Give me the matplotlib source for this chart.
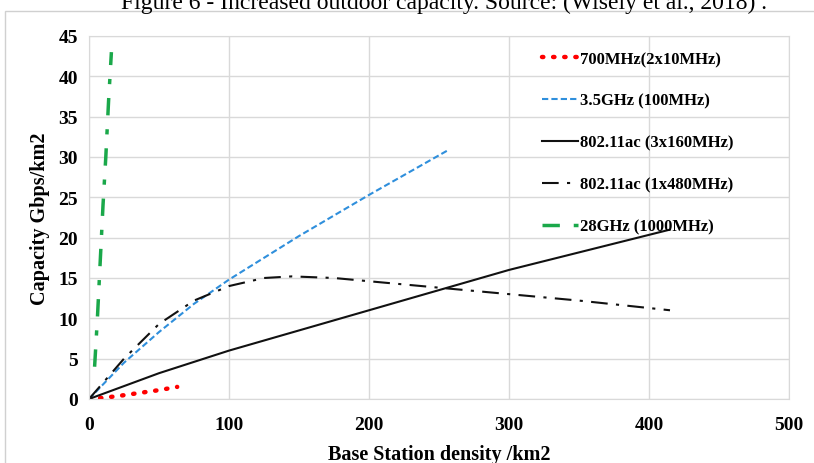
import matplotlib
matplotlib.use("Agg")
from matplotlib import pyplot as plt
from matplotlib.patches import Rectangle

# data
x_700 = [0, 10, 20, 30, 40, 50, 63]
y_700 = [0, 0.15, 0.35, 0.6, 0.85, 1.1, 1.5]

x_35 = [0, 25, 50, 75, 100, 150, 200, 256]
y_35 = [0, 4.5, 8.3, 11.8, 14.8, 20.2, 25.3, 30.8]

x_160 = [0, 50, 100, 200, 300, 415]
y_160 = [0, 3.2, 6.0, 11.0, 16.0, 21.0]

x_480 = [0, 25, 50, 75, 100, 125, 145, 175, 200, 250, 300, 350, 415]
y_480 = [0, 5.0, 9.3, 12.2, 14.0, 15.0, 15.2, 15.0, 14.6, 13.8, 13.0, 12.2, 11.0]

x_28 = [4, 6, 8, 10, 12, 14, 16]
y_28 = [4, 10, 17, 24, 30, 37, 43]

labels = ['700MHz(2x10MHz)', '3.5GHz (100MHz)', '802.11ac (3x160MHz)',
          '802.11ac (1x480MHz)', '28GHz (1000MHz)']

plt.rcParams['font.family'] = ['Liberation Serif', 'DejaVu Serif']

fig = plt.figure(figsize=(8.14, 4.64), dpi=100)
ax = fig.add_axes([89/814, 1-400/464, 700/814, 363/464])

# outer frame and clipped caption
fig.patches.append(Rectangle((5/814, -0.1), 1.0, 1-12/464+0.1, transform=fig.transFigure,
                             fill=False, edgecolor='#d0d0d0', linewidth=1))
fig.text(0.545, 1-3/464, 'Figure 6 - Increased outdoor capacity. Source: (Wisely et al., 2018) .',
         ha='center', va='center', fontsize=17)

ax.plot(x_700, y_700, color='#ff0000', linestyle=(0, (0.3, 2.2)), linewidth=3.2,
        dash_capstyle='round', label=labels[0])
ax.plot(x_35, y_35, color='#2f8fdc', linestyle=(0, (3, 1.5)), linewidth=1.5, label=labels[1])
ax.plot(x_160, y_160, color='#111111', linestyle='-', linewidth=1.5, label=labels[2])
ax.plot(x_480, y_480, color='#111111', linestyle=(0, (8, 4, 1.5, 4)), linewidth=1.5, label=labels[3])
ax.plot(x_28, y_28, color='#1aa84a', linestyle=(0, (5, 4, 1.5, 4)), linewidth=2.5, label=labels[4])

ax.set_xlim(0, 500)
ax.set_ylim(0, 45)
ax.set_xticks(range(0, 501, 100))
ax.set_yticks(range(0, 46, 5))
ax.grid(True, color='#d9d9d9', linewidth=1)
ax.set_axisbelow(True)
for s in ax.spines.values():
    s.set_color('#d9d9d9')
ax.tick_params(axis='y', length=0, pad=8, labelsize=14)
ax.tick_params(axis='x', length=0, pad=12, labelsize=14)
for t in ax.get_xticklabels() + ax.get_yticklabels():
    t.set_fontweight('bold')

ax.set_xlabel('Base Station density /km2', fontsize=14.5, fontweight='bold', labelpad=8)
ax.set_ylabel('Capacity Gbps/km2', fontsize=14.5, fontweight='bold', labelpad=6)

leg = ax.legend(loc='upper left', bbox_to_anchor=(0.625, 1.0), frameon=False,
                handlelength=2.2, handletextpad=0.1, labelspacing=1.55,
                prop={'size': 12, 'weight': 'bold'})

fig.savefig('out.png', dpi=100)
